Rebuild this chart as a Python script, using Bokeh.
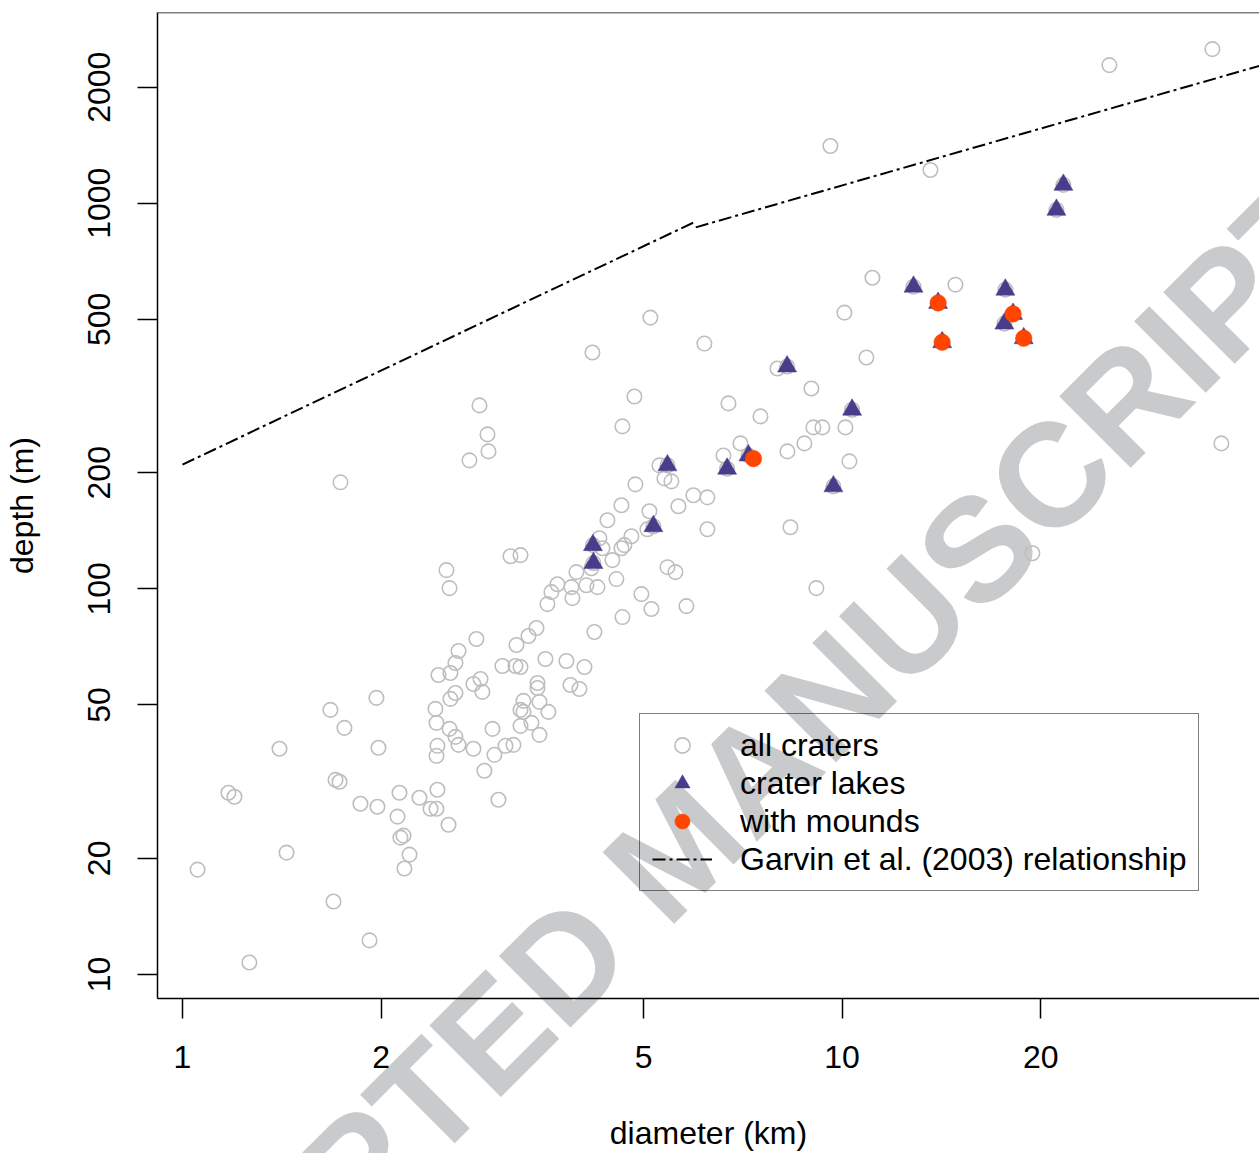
from bokeh.plotting import figure
from bokeh.models import (Range1d, FixedTicker, PrintfTickFormatter, Legend,
                          LegendItem, Label, Span, GridBox)
from bokeh.embed import file_html
from bokeh.resources import INLINE

# ---------------- data ----------------
# all craters that are neither crater lakes nor mound craters: diameter (km), depth (m)
crater_diam = [
    1.054, 1.174, 1.199, 1.263, 1.403, 1.438, 1.676, 1.694, 1.706, 1.730,
    1.736, 1.760, 1.861, 1.921, 1.968, 1.975, 1.982, 2.118, 2.133, 2.140,
    2.163, 2.170, 2.209, 2.287, 2.377, 2.427, 2.435, 2.418, 2.427, 2.435,
    2.427, 2.444, 2.531, 2.540, 2.593, 2.621, 2.548, 2.593, 2.621, 2.548,
    2.593, 2.513, 2.540, 2.723, 2.820, 2.900, 2.910, 2.761, 2.790, 2.830,
    2.761, 2.849, 2.869, 2.951, 2.971, 3.013, 3.055, 3.088, 3.175, 3.142,
    3.254, 3.197, 3.254, 3.209, 3.346, 3.441, 3.453, 3.453, 3.288, 3.254,
    3.288, 3.477, 3.587, 3.381, 3.254, 3.477, 3.550, 3.820, 4.068, 3.874,
    3.997, 3.575, 3.625, 3.702, 3.887, 3.901, 3.956, 4.096, 4.257, 4.212,
    4.168, 4.286, 4.332, 4.408, 4.485, 4.548, 4.677, 4.629, 4.793, 4.629,
    4.645, 4.645, 4.860, 4.963, 5.068, 5.104, 5.139, 5.285, 5.378, 5.511,
    5.435, 5.589, 5.647, 5.807, 5.950, 6.248, 6.248, 4.183, 4.843, 5.121,
    6.183, 6.608, 6.725, 7.013, 7.520, 7.979, 8.262, 8.349, 8.766, 8.983,
    9.046, 9.335, 9.141, 10.116, 10.258, 10.885, 10.081, 11.116, 14.852, 9.600,
    13.612, 25.42, 36.42, 37.58, 19.43,
]
crater_depth = [
    18.70, 29.59, 28.89, 10.74, 38.47, 20.70, 48.53, 15.45, 31.96, 31.59,
    188.9, 43.60, 27.71, 12.25, 52.13, 27.22, 38.70, 25.65, 29.59, 22.63,
    22.90, 18.82, 20.45, 28.72, 26.90, 26.90, 30.12, 48.82, 44.92, 39.16,
    36.89, 59.79, 24.45, 43.34, 41.31, 39.39, 60.51, 64.23, 69.00, 51.82,
    53.70, 111.8, 100.4, 215.4, 299.0, 251.5, 227.2, 38.47, 74.10, 58.38,
    56.66, 54.03, 33.74, 43.34, 37.11, 28.38, 63.08, 39.16, 39.39, 121.5,
    122.3, 63.08, 62.70, 71.50, 75.44, 79.12, 57.00, 55.33, 51.21, 48.53,
    47.96, 50.90, 47.96, 44.92, 44.12, 41.81, 65.78, 65.00, 62.70, 56.32,
    55.00, 91.28, 98.05, 102.8, 101.0, 94.61, 110.5, 102.2, 101.0, 77.26,
    113.1, 135.3, 127.4, 150.6, 118.7, 106.0, 129.8, 127.4, 136.9, 164.7,
    263.8, 84.48, 186.6, 96.89, 142.7, 158.9, 88.62, 209.0, 193.4, 190.0,
    113.8, 110.5, 163.7, 90.21, 174.8, 172.7, 142.7, 410.0, 315.4, 505.1,
    432.6, 221.8, 302.6, 238.3, 280.0, 372.7, 227.2, 144.4, 238.3, 330.8,
    262.2, 262.2, 100.4, 262.2, 214.1, 398.0, 520.4, 641.1, 614.9, 1408,
    1220, 2282, 2510, 238.3, 123.7,
]

# crater lakes
lake_diam = [21.65, 21.13, 12.83, 17.68, 17.62, 13.98, 14.18, 18.16, 18.85,
             8.253, 10.355, 5.435, 6.694, 7.212, 9.701, 5.175, 4.190, 4.198]
lake_depth = [1116, 961.4, 607.6, 596.9, 487.3, 551.3, 436.0, 516.4, 446.5,
              377.2, 291.4, 209.0, 204.9, 221.8, 184.4, 145.3, 129.8, 116.6]

# craters with mounds
mound_diam = [13.98, 18.16, 14.18, 18.85, 7.339]
mound_depth = [551.3, 516.4, 436.0, 446.5, 217.6]

# Garvin et al. (2003) relationship (simple / complex branches)
garvin_diam = [[1.0, 6.0], [6.0, 45.0]]
garvin_depth = [[210.0, 897.0], [866.0, 2325.0]]

x_ticks = [1, 2, 5, 10, 20]
y_ticks = [10, 20, 50, 100, 200, 500, 1000, 2000]

legend_labels = ["all craters", "crater lakes", "with mounds",
                 "Garvin et al. (2003) relationship"]
watermark_text = "ACCEPTED MANUSCRIPT"

# all craters include the crater lakes
all_diam = crater_diam + lake_diam
all_depth = crater_depth + lake_depth

FONT = "Liberation Sans"
W, H = 1259, 1153

# ---------------- background layer: watermark ----------------
bg = figure(width=W, height=H, output_backend="svg", toolbar_location=None,
            x_range=Range1d(0, W), y_range=Range1d(0, H),
            x_axis_location=None, y_axis_location=None, min_border=0)
bg.grid.visible = False
bg.outline_line_color = None
bg.background_fill_color = "white"
bg.border_fill_color = "white"
bg.add_layout(Label(x=677, y=305, x_units="screen", y_units="screen",
                    text=watermark_text, angle=0.785, text_align="center",
                    text_baseline="middle", text_font=FONT,
                    text_font_style="bold", text_font_size="147px",
                    text_color="#C9CACC"))

# ---------------- main chart ----------------
p = figure(width=W, height=H, x_axis_type="log", y_axis_type="log",
           x_range=Range1d(0.9165, 42.93), y_range=Range1d(8.66, 3124),
           output_backend="svg", toolbar_location=None,
           min_border_left=157, min_border_right=0, min_border_top=12,
           min_border_bottom=154,
           x_axis_label="diameter (km)", y_axis_label="depth (m)")
p.grid.visible = False
p.outline_line_color = None
p.background_fill_alpha = 0
p.border_fill_alpha = 0

# the two layers share one grid cell; do not align their frames
for fig in (bg, p):
    try:
        fig.frame_align = False
    except Exception:
        pass

for ax in (p.xaxis[0], p.yaxis[0]):
    ax.major_tick_out = 20
    ax.major_tick_in = 0
    ax.minor_tick_line_color = None
    ax.major_tick_line_color = "black"
    ax.major_tick_line_width = 1.5
    ax.axis_line_color = "black"
    ax.axis_line_width = 1.5
    ax.major_label_text_font = FONT
    ax.major_label_text_font_size = "32px"
    ax.major_label_text_color = "black"
    ax.axis_label_text_font = FONT
    ax.axis_label_text_font_size = "32px"
    ax.axis_label_text_font_style = "normal"
    ax.axis_label_text_color = "black"
    ax.formatter = PrintfTickFormatter(format="%d")

p.xaxis[0].major_label_standoff = 27
p.xaxis[0].axis_label_standoff = 44
p.yaxis[0].major_label_standoff = 27
p.yaxis[0].axis_label_standoff = 46

p.xaxis[0].ticker = FixedTicker(ticks=x_ticks, minor_ticks=[])
p.yaxis[0].ticker = FixedTicker(ticks=y_ticks, minor_ticks=[])
p.yaxis[0].major_label_orientation = "vertical"

# top frame line
p.add_layout(Span(location=3124, dimension="width", line_color="black",
                  line_width=1.5))

r_all = p.scatter(all_diam, all_depth, marker="circle", size=14.5,
                  fill_color=None, line_color="#BEBEBE", line_width=1.6)
r_lake = p.scatter(lake_diam, lake_depth, marker="triangle", size=19,
                   fill_color="#483D8B", line_color="#483D8B", line_width=0.5)
r_mound = p.scatter(mound_diam, mound_depth, marker="circle", size=16.5,
                    fill_color="#FF4500", line_color="#FF4500", line_width=0.5)
r_gar = p.multi_line(garvin_diam, garvin_depth, line_color="black",
                     line_width=2, line_dash="13 4 3 4")

legend = Legend(items=[LegendItem(label=legend_labels[0], renderers=[r_all]),
                       LegendItem(label=legend_labels[1], renderers=[r_lake]),
                       LegendItem(label=legend_labels[2], renderers=[r_mound]),
                       LegendItem(label=legend_labels[3], renderers=[r_gar])],
                location=(482, 107), margin=0, padding=12, spacing=0,
                glyph_width=60, glyph_height=38, label_height=38,
                label_standoff=28, label_text_font=FONT,
                label_text_font_size="32px", label_text_color="black",
                border_line_color="black", border_line_width=1.5,
                background_fill_alpha=0)
p.add_layout(legend)

layout = GridBox(children=[(bg, 0, 0), (p, 0, 0)])

open("out.html", "w").write(file_html(layout, INLINE))
